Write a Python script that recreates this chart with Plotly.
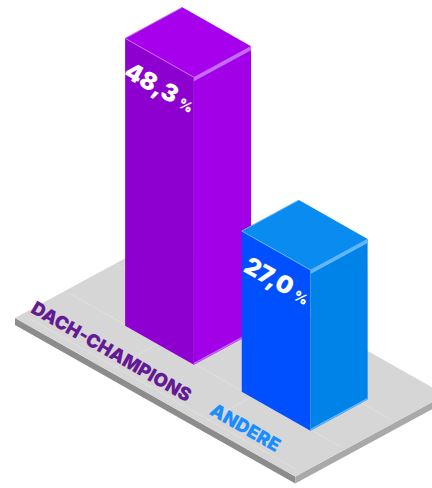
import math
import plotly.graph_objects as go

# ---- data ----
categories = ["DACH-CHAMPIONS", "ANDERE"]
values = [48.3, 27.0]
value_labels = ["48,3", "27,0"]

# ---- styling per bar ----
left_colors = ["#8e00cf", "#0050ff"]
right_colors = ["#a200e7", "#0083e8"]
top_colors = ["#a600ec", "#0a8bf0"]
edge_colors = ["#c36cff", "#62b6ff"]
label_colors = ["#651a95", "#1a8dff"]

W, H = 432, 488
FONT = "Inter"

# isometric projection (screen pixels)
ORIGIN = (15.0, 318.0)
U = (math.cos(math.radians(29.5)), math.sin(math.radians(29.5)))
V = (math.cos(math.radians(28.5)), -math.sin(math.radians(28.5)))
PX_PER_PCT = 5.95

PLATE_U, PLATE_V, PLATE_T = 322.0, 171.0, 7.0
BAR_DEPTH, BAR_WIDTH = 79.0, 65.0
BAR_V0 = 56.0
BAR_U0 = [70.0, 204.0]
CAT_U_SHIFT = [-21.0, -1.0]
CAT_V = 22.0


def proj(u, v, z=0.0):
    return (ORIGIN[0] + u * U[0] + v * V[0],
            ORIGIN[1] + u * U[1] + v * V[1] - z)


fig = go.Figure()


def poly(pts, color, line_color=None, width=0):
    xs = [p[0] for p in pts] + [pts[0][0]]
    ys = [p[1] for p in pts] + [pts[0][1]]
    fig.add_trace(go.Scatter(
        x=xs, y=ys, mode="lines", fill="toself", fillcolor=color,
        line=dict(color=line_color or color, width=width),
        hoverinfo="skip", showlegend=False))


def seg(a, b, color, width=1):
    fig.add_trace(go.Scatter(
        x=[a[0], b[0]], y=[a[1], b[1]], mode="lines",
        line=dict(color=color, width=width),
        hoverinfo="skip", showlegend=False))


# ---- platform ----
L0 = proj(0, 0)
B0 = proj(PLATE_U, 0)
R0 = proj(PLATE_U, PLATE_V)
T0 = proj(0, PLATE_V)
down = lambda p: (p[0], p[1] + PLATE_T)
poly([L0, B0, down(B0), down(L0)], "#8c8c8c")
poly([B0, R0, down(R0), down(B0)], "#a9a9a9")
poly([L0, B0, R0, T0], "#d6d6d6")

# faint tile lines on the plate
for gu in (107.0, 215.0):
    seg(proj(gu, 6), proj(gu, PLATE_V - 6), "#e0e0e0", 1)
for gv in (57.0, 114.0):
    seg(proj(6, gv), proj(PLATE_U - 6, gv), "#e0e0e0", 1)
seg(proj(8, 8), proj(PLATE_U - 8, 8), "#e0e0e0", 1)

# ---- bars ----
annotations = []
for i, (cat, val) in enumerate(zip(categories, values)):
    u0, u1 = BAR_U0[i], BAR_U0[i] + BAR_DEPTH
    v0, v1 = BAR_V0, BAR_V0 + BAR_WIDTH
    h = val * PX_PER_PCT

    # left face (min v side)
    poly([proj(u0, v0, 0), proj(u1, v0, 0), proj(u1, v0, h), proj(u0, v0, h)],
         left_colors[i])
    # right face (max u side)
    poly([proj(u1, v0, 0), proj(u1, v1, 0), proj(u1, v1, h), proj(u1, v0, h)],
         right_colors[i])
    # top face
    poly([proj(u0, v0, h), proj(u1, v0, h), proj(u1, v1, h), proj(u0, v1, h)],
         top_colors[i])
    # bevel highlight along the front-right top edge
    poly([proj(u1, v0, h), proj(u1, v1, h), proj(u1, v1, h - 4), proj(u1, v0, h - 4)],
         edge_colors[i])
    seg(proj(u0, v0, h), proj(u1, v0, h), edge_colors[i], 1)
    seg(proj(u0, v0, h), proj(u0, v1, h), edge_colors[i], 1)
    seg(proj(u1, v0, 1), proj(u1, v1, 1), edge_colors[i], 1.5)

    # value label on the left face
    a = proj(u0, v0, h)
    b = proj(u1, v0, h)
    lx, ly = (a[0] + b[0]) / 2 + 1, (a[1] + b[1]) / 2 + 30
    annotations.append(dict(
        x=lx, y=ly, xref="x", yref="y", showarrow=False,
        text=f"{value_labels[i]} <span style='font-size:14px'>%</span>",
        textangle=29, xanchor="center", yanchor="middle",
        font=dict(family=FONT, size=24, color="white", weight=900)))

    # category label on the plate
    cx, cy = proj((u0 + u1) / 2 + CAT_U_SHIFT[i], CAT_V)
    annotations.append(dict(
        x=cx, y=cy, xref="x", yref="y", showarrow=False,
        text=cat, textangle=30, xanchor="center", yanchor="middle",
        font=dict(family=FONT, size=18.5, color=label_colors[i], weight=900)))

fig.update_layout(
    width=W, height=H,
    margin=dict(l=0, r=0, t=0, b=0),
    paper_bgcolor="white", plot_bgcolor="white",
    xaxis=dict(range=[0, W], visible=False, fixedrange=True),
    yaxis=dict(range=[H, 0], visible=False, fixedrange=True),
    annotations=annotations,
    showlegend=False,
)

fig.write_html("out.html", config={"displayModeBar": False})
